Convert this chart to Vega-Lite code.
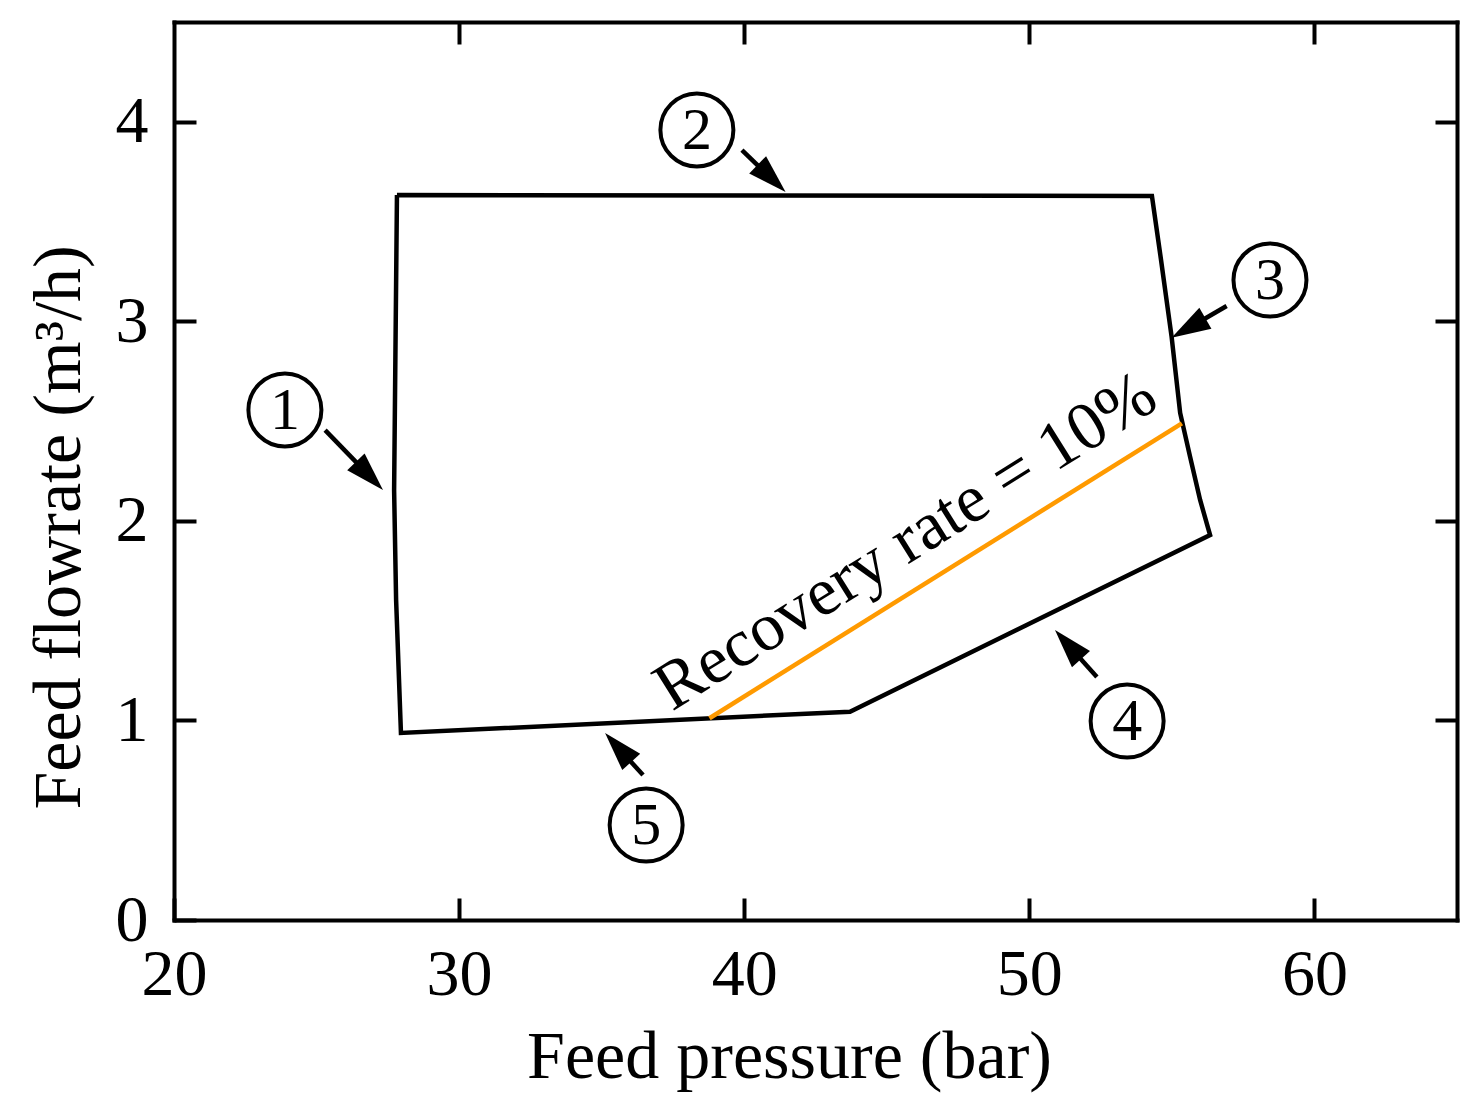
{
  "$schema": "https://vega.github.io/schema/vega-lite/v6.json",
  "width": 1283,
  "height": 898,
  "autosize": "none",
  "padding": {"left": 174, "top": 22, "right": 18, "bottom": 193},
  "background": "white",
  "config": {
    "view": {"stroke": null},
    "axis": {
      "grid": false,
      "domainColor": "black",
      "domainWidth": 4,
      "domainCap": "square",
      "tickColor": "black",
      "tickWidth": 4,
      "tickSize": -22,
      "labelFont": "Liberation Serif",
      "labelFontSize": 66,
      "labelColor": "black",
      "labelFlush": false,
      "labelOverlap": false,
      "titleFont": "Liberation Serif",
      "titleFontSize": 68,
      "titleFontWeight": "normal",
      "titleColor": "black"
    }
  },
  "datasets": {
    "boundary": [
      {"i": 1, "x": 27.82, "y": 3.633},
      {"i": 2, "x": 54.30, "y": 3.628},
      {"i": 3, "x": 54.62, "y": 3.307},
      {"i": 4, "x": 54.99, "y": 2.923},
      {"i": 5, "x": 55.29, "y": 2.541},
      {"i": 6, "x": 55.64, "y": 2.320},
      {"i": 7, "x": 55.99, "y": 2.105},
      {"i": 8, "x": 56.27, "y": 1.964},
      {"i": 9, "x": 56.34, "y": 1.929},
      {"i": 10, "x": 43.71, "y": 1.044},
      {"i": 11, "x": 27.96, "y": 0.937},
      {"i": 12, "x": 27.79, "y": 1.604},
      {"i": 13, "x": 27.72, "y": 2.155},
      {"i": 14, "x": 27.82, "y": 3.633}
    ],
    "recovery": [
      {"i": 1, "x": 38.78, "y": 1.011},
      {"i": 2, "x": 55.35, "y": 2.489}
    ],
    "arrows": [
      {"arrow": 1, "x": 25.30, "y": 2.455, "x2": 26.60, "y2": 2.263, "tx": 27.33, "ty": 2.155},
      {"arrow": 2, "x": 39.92, "y": 3.858, "x2": 40.68, "y2": 3.753, "tx": 41.45, "ty": 3.648},
      {"arrow": 3, "x": 56.92, "y": 3.077, "x2": 55.91, "y2": 2.993, "tx": 54.99, "ty": 2.918},
      {"arrow": 4, "x": 52.37, "y": 1.218, "x2": 51.60, "y2": 1.341, "tx": 50.90, "ty": 1.453},
      {"arrow": 5, "x": 36.45, "y": 0.727, "x2": 35.82, "y2": 0.825, "tx": 35.12, "ty": 0.937}
    ],
    "markers": [
      {"label": "1", "x": 23.89, "y": 2.556},
      {"label": "2", "x": 38.34, "y": 3.959},
      {"label": "3", "x": 58.44, "y": 3.207},
      {"label": "4", "x": 53.43, "y": 0.997},
      {"label": "5", "x": 36.56, "y": 0.476}
    ],
    "note": [
      {"label": "Recovery rate = 10%", "x": 45.67, "y": 1.894}
    ]
  },
  "layer": [
    {
      "data": {"name": "boundary"},
      "mark": {"type": "line", "color": "black", "strokeWidth": 4.5, "strokeJoin": "miter"},
      "encoding": {
        "x": {"field": "x", "type": "quantitative", "scale": {"domain": [20, 65], "nice": false, "zero": false},
              "axis": {"orient": "bottom", "values": [20, 30, 40, 50, 60], "title": "Feed pressure (bar)", "labelPadding": 44,
                       "titleX": 615, "titleY": 157, "titleAlign": "center", "titleBaseline": "alphabetic"}},
        "y": {"field": "y", "type": "quantitative", "scale": {"domain": [0, 4.5], "nice": false, "zero": false},
              "axis": {"orient": "left", "values": [0, 1, 2, 3, 4], "title": "Feed flowrate (m³/h)", "labelPadding": 48,
                       "titleX": -95, "titleY": 505, "titleAlign": "center", "titleBaseline": "alphabetic", "titleAngle": -90}},
        "order": {"field": "i", "type": "quantitative"}
      }
    },
    {
      "data": {"name": "recovery"},
      "mark": {"type": "line", "color": "#ff9a00", "strokeWidth": 4.5},
      "encoding": {
        "x": {"field": "x", "type": "quantitative", "scale": {"domain": [20, 65], "nice": false, "zero": false},
              "axis": {"orient": "top", "values": [30, 40, 50, 60], "labels": false, "title": null}},
        "y": {"field": "y", "type": "quantitative", "scale": {"domain": [0, 4.5], "nice": false, "zero": false},
              "axis": {"orient": "right", "values": [1, 2, 3, 4], "labels": false, "title": null}},
        "order": {"field": "i", "type": "quantitative"}
      }
    },
    {
      "data": {"name": "arrows"},
      "mark": {"type": "rule", "color": "black", "strokeWidth": 4.5},
      "encoding": {
        "x": {"field": "x", "type": "quantitative", "scale": {"domain": [20, 65], "nice": false, "zero": false}, "axis": null},
        "y": {"field": "y", "type": "quantitative", "scale": {"domain": [0, 4.5], "nice": false, "zero": false}, "axis": null},
        "x2": {"field": "x2"},
        "y2": {"field": "y2"}
      }
    },
    {
      "data": {"name": "arrows"},
      "mark": {"type": "point", "shape": "M0,0 L-0.31,1 L0.31,1 Z", "filled": true, "color": "black", "opacity": 1, "size": 6084, "strokeWidth": 0},
      "encoding": {
        "x": {"field": "tx", "type": "quantitative", "scale": {"domain": [20, 65], "nice": false, "zero": false}, "axis": null},
        "y": {"field": "ty", "type": "quantitative", "scale": {"domain": [0, 4.5], "nice": false, "zero": false}, "axis": null},
        "angle": {"field": "arrow", "type": "quantitative", "scale": {"type": "threshold", "domain": [1.5, 2.5, 3.5, 4.5], "range": [136, 134.3, 240, 318.2, 317.9]}, "legend": null}
      }
    },
    {
      "data": {"name": "markers"},
      "mark": {"type": "point", "shape": "circle", "filled": false, "stroke": "black", "fill": "white", "fillOpacity": 1, "opacity": 1, "strokeWidth": 4, "size": 5329},
      "encoding": {
        "x": {"field": "x", "type": "quantitative", "scale": {"domain": [20, 65], "nice": false, "zero": false}, "axis": null},
        "y": {"field": "y", "type": "quantitative", "scale": {"domain": [0, 4.5], "nice": false, "zero": false}, "axis": null}
      }
    },
    {
      "data": {"name": "markers"},
      "mark": {"type": "text", "font": "Liberation Serif", "fontSize": 60, "color": "black", "align": "center", "baseline": "middle", "dy": 1},
      "encoding": {
        "x": {"field": "x", "type": "quantitative", "scale": {"domain": [20, 65], "nice": false, "zero": false}, "axis": null},
        "y": {"field": "y", "type": "quantitative", "scale": {"domain": [0, 4.5], "nice": false, "zero": false}, "axis": null},
        "text": {"field": "label"}
      }
    },
    {
      "data": {"name": "note"},
      "mark": {"type": "text", "font": "Liberation Serif", "fontSize": 68, "color": "black", "align": "center", "baseline": "middle", "angle": 328},
      "encoding": {
        "x": {"field": "x", "type": "quantitative", "scale": {"domain": [20, 65], "nice": false, "zero": false}, "axis": null},
        "y": {"field": "y", "type": "quantitative", "scale": {"domain": [0, 4.5], "nice": false, "zero": false}, "axis": null},
        "text": {"field": "label"}
      }
    }
  ],
  "resolve": {"axis": {"x": "independent", "y": "independent"}}
}
